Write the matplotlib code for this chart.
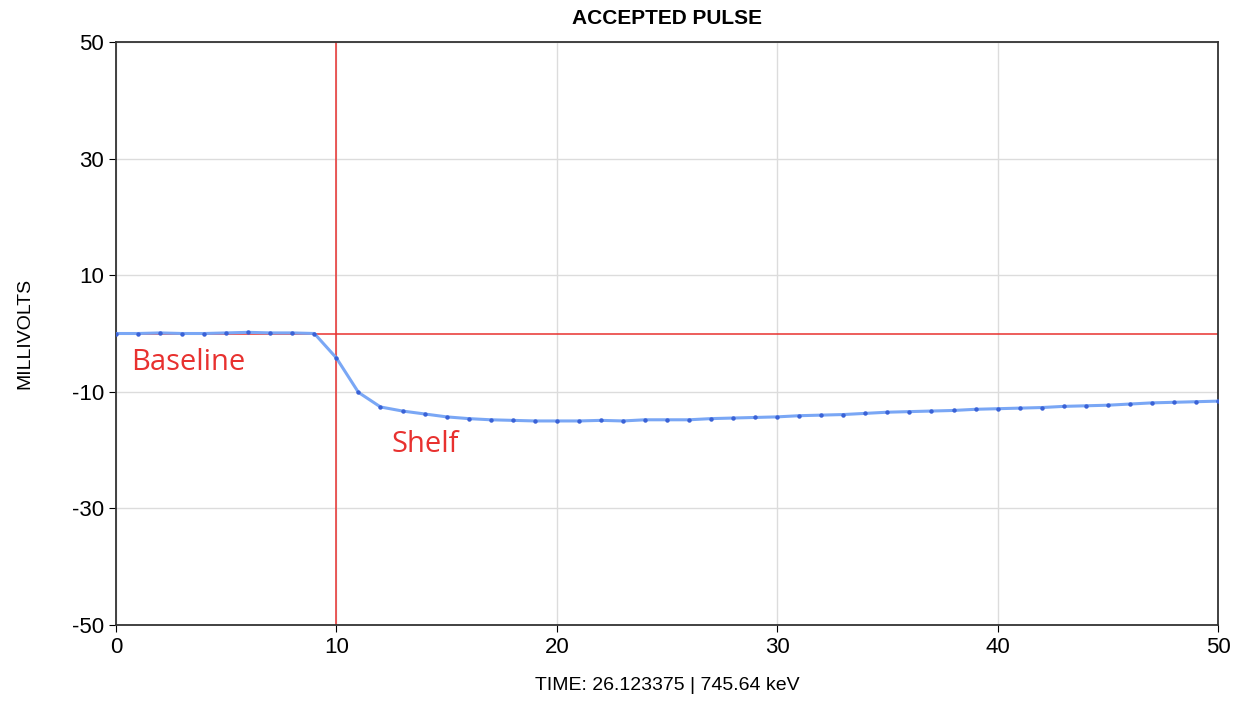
import numpy as np
import matplotlib
matplotlib.use("Agg")
from matplotlib import pyplot as plt

# pulse samples
time = list(range(0, 51))
mv = [0.0, 0.0, 0.1, 0.0, 0.0, 0.1, 0.2, 0.1, 0.1, 0.0,
      -4.2, -10.1, -12.6, -13.3, -13.8, -14.3, -14.6, -14.8, -14.9, -15.0,
      -15.0, -15.0, -14.9, -15.0, -14.8, -14.8, -14.8, -14.6, -14.5, -14.4,
      -14.3, -14.1, -14.0, -13.9, -13.7, -13.5, -13.4, -13.3, -13.2, -13.0,
      -12.9, -12.8, -12.7, -12.5, -12.4, -12.3, -12.1, -11.9, -11.8, -11.7,
      -11.6]
marker_x = 10
marker_y = 0

plt.rcParams['font.family'] = ['Liberation Sans', 'DejaVu Sans']
plt.rcParams['axes.unicode_minus'] = False
fig = plt.figure(figsize=(12.45, 7.14), dpi=100)
ax = fig.add_axes([116/1245, 1-625/714, (1218-116)/1245, (625-42)/714])

ax.grid(True, color="#dcdcdc", linewidth=1)
ax.set_axisbelow(True)
ax.axvline(marker_x, color="#e8312f", linewidth=1.1, zorder=2)
ax.axhline(marker_y, color="#e8312f", linewidth=1.1, zorder=2)
ax.plot(time, mv, color="#7aa7f5", linewidth=2.2, zorder=3)
ax.plot(time, mv, linestyle="none", marker="o", markersize=2.2, color="#3a62d6", zorder=4)

ax.set_xlim(0, 50)
ax.set_ylim(-50, 50)
ax.set_xticks([0, 10, 20, 30, 40, 50])
ax.set_yticks([-50, -30, -10, 10, 30, 50])
ax.tick_params(labelsize=16, length=5, color="black")
for s in ax.spines.values():
    s.set_color("#333333")
    s.set_linewidth(1.3)

ax.set_title("ACCEPTED PULSE", fontsize=15, fontweight="bold", pad=13)
ax.set_xlabel("TIME: 26.123375 | 745.64 keV", fontsize=14, labelpad=14)
ax.set_ylabel("MILLIVOLTS", fontsize=14, labelpad=28)

ax.text(0.7, -5, "Baseline", color="#e8312f", fontsize=21, family=["Open Sans", "DejaVu Sans"], va="center")
ax.text(12.5, -19, "Shelf", color="#e8312f", fontsize=21, family=["Open Sans", "DejaVu Sans"], va="center")

fig.savefig("out.png", dpi=100)
